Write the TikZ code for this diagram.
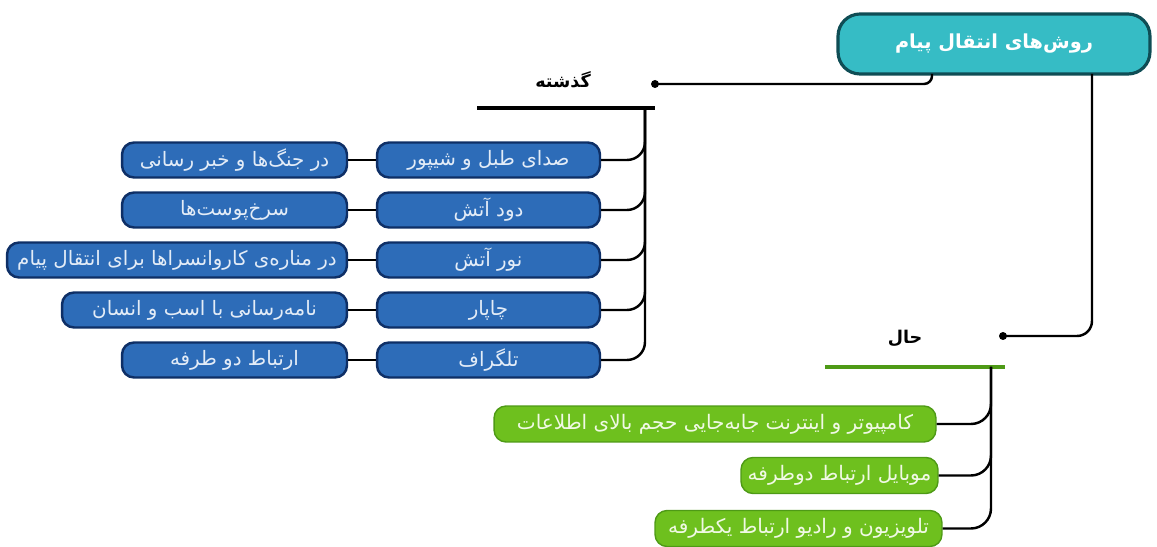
\documentclass[tikz,border=0pt]{standalone}
\usepackage{fontspec}
\newfontfamily\fafont[Script=Arabic]{DejaVu Sans}
\TeXXeTstate=1
\newcommand{\rtl}[1]{\beginR #1\endR}
\definecolor{rootfill}{HTML}{36BCC5}
\definecolor{rootline}{HTML}{0F4D55}
\definecolor{pastfill}{HTML}{2D6CB8}
\definecolor{pastline}{HTML}{0E2F66}
\definecolor{pasttext}{HTML}{E3ECF7}
\definecolor{nowfill}{HTML}{6EC01E}
\definecolor{nowline}{HTML}{4E9A16}
\definecolor{nowtext}{HTML}{F0F9E4}
\begin{document}
\begin{tikzpicture}[x=0.02cm,y=-0.02cm]
			
			\tikzstyle{root} = [rectangle, rounded corners=4.4mm, minimum width=62.4mm, minimum height=12mm, inner sep=0pt, draw=rootline, line width=1.8pt, fill=rootfill, text=white, font=\fafont\bfseries\fontsize{11}{13}\selectfont]
			\tikzstyle{pastbox} = [rectangle, rounded corners=2.4mm, minimum height=7mm, inner sep=0pt, draw=pastline, line width=1.4pt, fill=pastfill, text=pasttext, font=\fafont\fontsize{11.3}{13}\selectfont]
			\tikzstyle{nowbox} = [rectangle, rounded corners=2.4mm, minimum height=7.2mm, inner sep=0pt, draw=nowline, line width=0.8pt, fill=nowfill, text=nowtext, font=\fafont\fontsize{11.4}{13}\selectfont]
			\tikzstyle{heading} = [inner sep=0pt, font=\fafont\bfseries\fontsize{10}{12}\selectfont]
			\tikzstyle{joint} = [circle, fill=black, inner sep=0pt, minimum size=1.6mm]
			\tikzstyle{link} = [line width=1.4pt, black]
			\tikzstyle{headline} = [line width=2.4pt]
			
			\useasboundingbox (0,0) rectangle (1157,547);
			
			\node (root) [root] at (994,44) {\rtl{روش‌های انتقال پیام}};
			
			\node (past) [heading] at (563,80) {\rtl{گذشته}};
			\node (now) [heading] at (905,338) {\rtl{حال}};
			\node (pastdot) [joint] at (655,84) {};
			\node (nowdot) [joint] at (1003,336) {};
			\coordinate (rootleft) at (932,74);
			\coordinate (rootright) at (1092,74);
			\draw [link, rounded corners=1.6mm] (pastdot.center) -| (rootleft);
			\draw [link, rounded corners=3mm] (rootright) |- (nowdot.center);
			
			\coordinate (pastbarl) at (477,108);
			\coordinate (pastbarr) at (655,108);
			\coordinate (pasttop) at (645,108);
			\draw [headline, black] (pastbarl) -- (pastbarr);
			
			\node (drum) [pastbox, minimum width=44.6mm] at (488.5,160) {\rtl{صدای طبل و شیپور}};
			\node (smoke) [pastbox, minimum width=44.6mm] at (488.5,210) {\rtl{دود آتش}};
			\node (fire) [pastbox, minimum width=44.6mm] at (488.5,260) {\rtl{نور آتش}};
			\node (courier) [pastbox, minimum width=44.6mm] at (488.5,310) {\rtl{چاپار}};
			\node (telegraph) [pastbox, minimum width=44.6mm] at (488.5,360) {\rtl{تلگراف}};
			
			\node (war) [pastbox, minimum width=45mm] at (234.5,160) {\rtl{در جنگ‌ها و خبر رسانی}};
			\node (indians) [pastbox, minimum width=45mm] at (234.5,210) {\rtl{سرخ‌پوست‌ها}};
			\node (caravan) [pastbox, minimum width=68mm] at (177,260) {\rtl{در مناره‌ی کاروانسراها برای انتقال پیام}};
			\node (letters) [pastbox, minimum width=57mm] at (204.5,310) {\rtl{نامه‌رسانی با اسب و انسان}};
			\node (twoway) [pastbox, minimum width=45mm] at (234.5,360) {\rtl{ارتباط دو طرفه}};
			
			\foreach \a/\b in {drum/war, smoke/indians, fire/caravan, courier/letters, telegraph/twoway} {
				\draw [link, rounded corners=3.6mm] (pasttop) |- (\a.east);
				\draw [link] (\a.west) -- (\b.east);
			}
			
			\coordinate (nowbarl) at (825,367);
			\coordinate (nowbarr) at (1005,367);
			\coordinate (nowtop) at (991,367);
			\draw [headline, nowline] (nowbarl) -- (nowbarr);
			
			\node (computer) [nowbox, minimum width=88.4mm] at (715,424) {\rtl{کامپیوتر و اینترنت جابه‌جایی حجم بالای اطلاعات}};
			\node (mobile) [nowbox, minimum width=39.4mm] at (839.5,475.5) {\rtl{موبایل ارتباط دوطرفه}};
			\node (tv) [nowbox, minimum width=57.4mm] at (798.5,528.5) {\rtl{تلویزیون و رادیو ارتباط یکطرفه}};
			
			\foreach \a in {computer, mobile, tv}
				\draw [link, rounded corners=4mm] (nowtop) |- (\a.east);
			
		\end{tikzpicture}
\end{document}
